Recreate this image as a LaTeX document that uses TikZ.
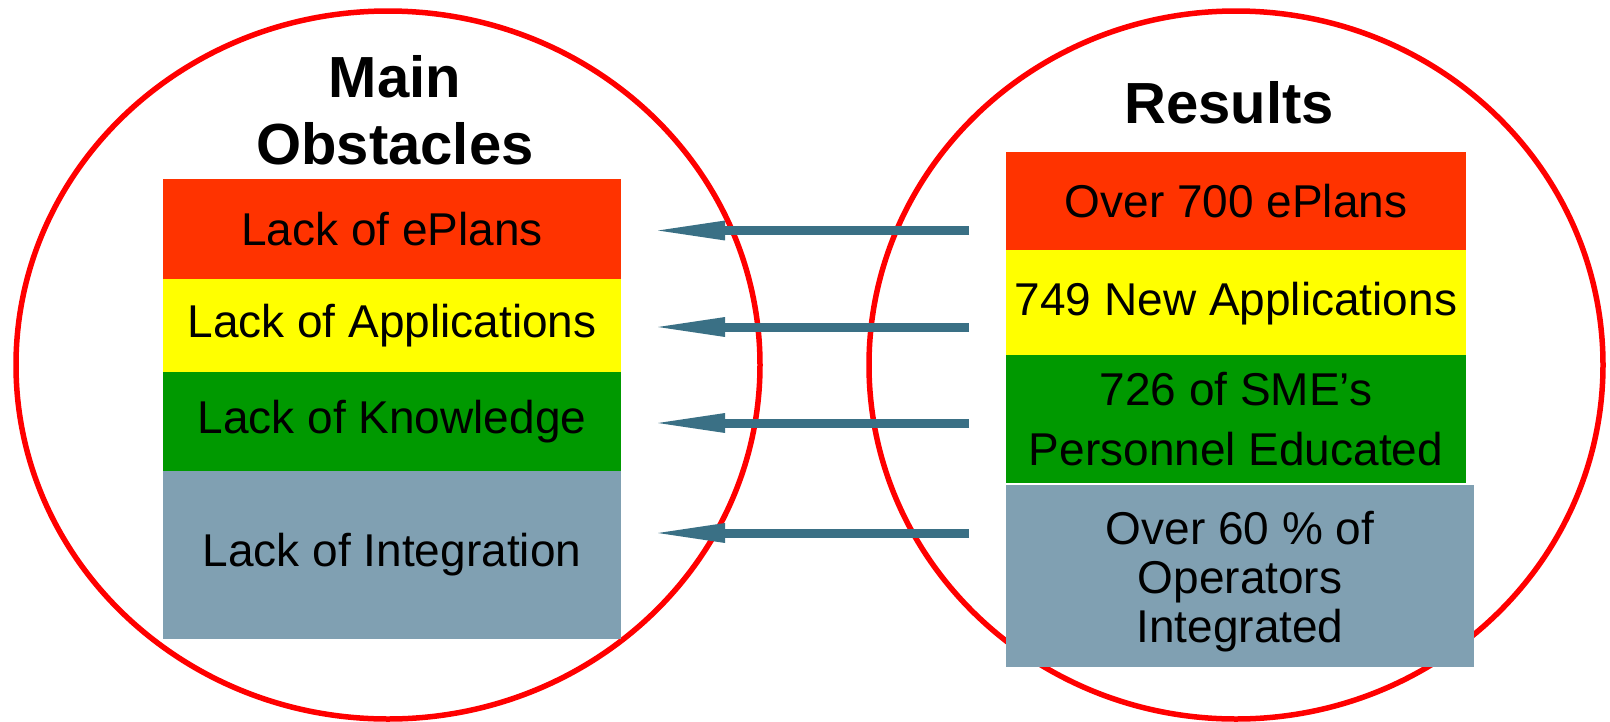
\documentclass[tikz,border=0pt]{standalone}
\usepackage{fontspec}
\setmainfont{Liberation Sans}
\usetikzlibrary{arrows.meta}
\definecolor{boxred}{RGB}{255,51,0}
\definecolor{boxyellow}{RGB}{255,255,0}
\definecolor{boxgreen}{RGB}{0,153,0}
\definecolor{boxgray}{RGB}{128,160,178}
\definecolor{arrowblue}{RGB}{58,112,133}
\definecolor{ringred}{RGB}{255,0,0}
\tikzset{
  ring/.style={draw=ringred, line width=5.5pt},
  bar/.style={inner sep=0pt, outer sep=0pt, align=center, text=black,
    font=\fontsize{46}{52}\selectfont},
  title/.style={inner sep=0pt, align=center, font=\fontsize{58}{67}\selectfont\bfseries},
  link/.style={draw=arrowblue, line width=9pt, -{Triangle[length=78pt,width=17pt]}},
}
\begin{document}
\begin{tikzpicture}[x=1pt,y=-1pt]
\useasboundingbox[fill=white] (0,0) rectangle (1610,721);
% circles
\draw[ring] (388,365) ellipse [x radius=372, y radius=354];
\draw[ring] (1236,365) ellipse [x radius=367, y radius=354];
% titles
\node[title] (tl) at (395,110) {Main\\Obstacles};
\node[title, anchor=base] (tr) at (1229,123) {Results};
% left bars
\node[bar, fill=boxred, minimum width=458pt, minimum height=100pt] (l1) at (392,229) {Lack of ePlans};
\node[bar, fill=boxyellow, minimum width=458pt, minimum height=93pt] (l2) at (392,325.5) {Lack of Applications};
\node[bar, fill=boxgreen, minimum width=458pt, minimum height=99pt] (l3) at (392,421.5) {Lack of Knowledge};
\node[bar, fill=boxgray, minimum width=458pt, minimum height=168pt] (l4) at (392,555) {Lack of Integration};
% right bars
\node[bar, fill=boxred, minimum width=460pt, minimum height=97.5pt] (r1) at (1236,200.75) {Over 700 ePlans};
\node[bar, fill=boxyellow, minimum width=460pt, minimum height=107.5pt] (r2) at (1236,303.25) {749 New Applications};
\node[bar, fill=boxgreen, minimum width=460pt, minimum height=128pt] (r3) at (1236,419) {726 of SME’s\\[8pt]Personnel Educated};
\node[bar, fill=boxgray, minimum width=468pt, minimum height=182pt, font=\fontsize{46}{49}\selectfont] (r4) at (1240,576) {\\[-5pt]Over 60 \% of\\Operators\\Integrated};
% arrows
\coordinate (s1) at (969,230.5); \coordinate (e1) at (647,230.5);
\coordinate (s2) at (969,327);   \coordinate (e2) at (647,327);
\coordinate (s3) at (969,423);   \coordinate (e3) at (647,423);
\coordinate (s4) at (969,533);   \coordinate (e4) at (647,533);
\draw[link] (s1) -- (e1);
\draw[link] (s2) -- (e2);
\draw[link] (s3) -- (e3);
\draw[link] (s4) -- (e4);
\end{tikzpicture}
\end{document}
